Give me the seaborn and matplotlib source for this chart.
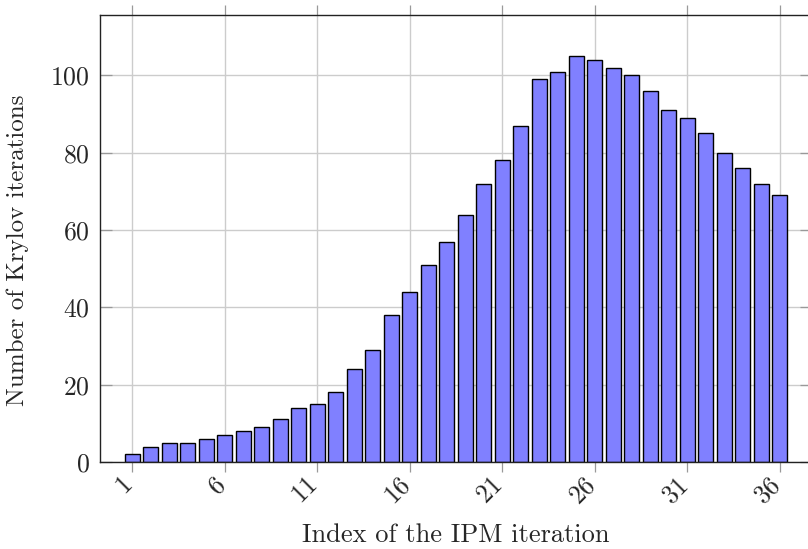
import numpy as np
import pandas as pd
import matplotlib
matplotlib.use('Agg')
import matplotlib.pyplot as plt
import matplotlib.transforms as mtransforms
import seaborn as sns

# Data
ipm_iteration = list(range(1, 37))
krylov_iterations = [2, 4, 5, 5, 6, 7, 8, 9, 11, 14, 15, 18, 24, 29, 38, 44, 51, 57,
                     64, 72, 78, 87, 99, 101, 105, 104, 102, 100, 96, 91, 89, 85, 80,
                     76, 72, 69]
x_ticks = [1, 6, 11, 16, 21, 26, 31, 36]
y_ticks = [0, 20, 40, 60, 80, 100]

sns.set_style('white')
plt.rcParams['font.family'] = ['cmr10', 'DejaVu Serif']
plt.rcParams['axes.formatter.use_mathtext'] = True
plt.rcParams['mathtext.fontset'] = 'cm'

df = pd.DataFrame({'Iteration': ipm_iteration, 'Krylov': krylov_iterations})

fig = plt.figure(figsize=(8.08, 5.49), dpi=100)
ax = fig.add_axes([100 / 808, 87 / 549, 712 / 808, 447.3 / 549])

sns.barplot(data=df, x='Iteration', y='Krylov', native_scale=True, width=0.8,
            color='#8080ff', saturation=1, edgecolor='black', linewidth=1.0, ax=ax)

ax.set_xlim(-0.74, 37.74)
ax.set_ylim(0, 115.7)
ax.set_xticks(x_ticks)
ax.set_yticks(y_ticks)
ax.set_axisbelow(True)
ax.grid(True, color='#cccccc', linewidth=1.0)

for side in ['left', 'bottom', 'top', 'right']:
    ax.spines[side].set_color('#222222')
    ax.spines[side].set_linewidth(1.0)

ax.tick_params(axis='x', which='major', direction='out', length=7.5, width=0.9,
               color='#999999', top=True, bottom=True, labelsize=18.5, pad=4)
ax.tick_params(axis='y', which='major', direction='in', length=8.5, width=0.9,
               color='#999999', left=True, right=True, labelsize=18.5, pad=7.5)

# rotated tick labels, nudged a little down-left like the original
shift = mtransforms.ScaledTranslation(-3 / 100, -4 / 100, fig.dpi_scale_trans)
for lbl in ax.get_xticklabels():
    lbl.set_rotation(45)
    lbl.set_ha('right')
    lbl.set_va('center')
    lbl.set_rotation_mode('anchor')
    lbl.set_transform(lbl.get_transform() + shift)

ax.set_xlabel('Index of the IPM iteration', fontsize=19, va='top')
ax.set_ylabel('Number of Krylov iterations', fontsize=18, va='center')
ax.xaxis.set_label_coords(0.5, -0.137)
ax.yaxis.set_label_coords(-0.116, 0.474)

plt.savefig('out.png', dpi=100)
plt.close()
